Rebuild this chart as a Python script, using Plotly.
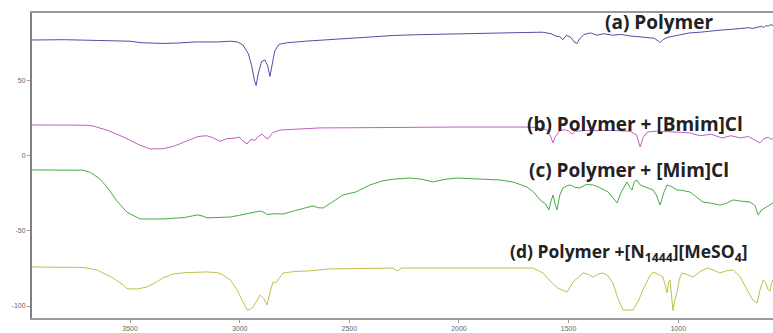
import plotly.graph_objects as go

# FTIR spectra, wavenumber (cm-1) vs. offset transmittance
wn_a = [3947, 3800, 3650, 3500, 3450, 3350, 3280, 3200, 3100, 3040, 3010, 2985, 2960, 2945,
        2932, 2925, 2915, 2900, 2885, 2872, 2862, 2852, 2840, 2820, 2780, 2700, 2600, 2500,
        2400, 2300, 2200, 2100, 2000, 1900, 1813, 1700, 1620, 1580, 1560, 1540, 1526, 1510,
        1490, 1475, 1462, 1450, 1430, 1400, 1370, 1340, 1300, 1260, 1220, 1180, 1140, 1110,
        1090, 1083, 1070, 1050, 1000, 950, 900, 850, 800, 750, 700, 680, 660, 640, 620, 610,
        600, 590, 580, 568]
t_a = [77.3, 77.5, 77.0, 76.5, 75.5, 75.0, 75.3, 76.0, 76.0, 76.5, 76.0, 74.0, 68.0, 60.0,
       50.0, 47.0, 55.0, 63.0, 64.0, 60.0, 53.0, 60.0, 70.0, 74.5, 75.5, 76.5, 77.5, 78.5,
       79.5, 80.3, 80.8, 81.2, 81.5, 81.8, 82.0, 82.3, 82.5, 81.5, 80.0, 79.5, 77.5, 80.5,
       79.0, 76.0, 75.0, 78.0, 81.0, 82.0, 80.5, 81.5, 80.5, 81.0, 80.0, 79.5, 79.0, 78.5,
       76.5, 75.5, 77.5, 79.0, 80.5, 82.0, 82.5, 83.5, 84.0, 84.5, 85.0, 85.5, 85.0, 86.0,
       86.5, 85.5, 87.0, 86.5, 87.5, 87.0]

wn_b = [3947, 3800, 3700, 3669, 3600, 3520, 3460, 3409, 3350, 3300, 3250, 3190, 3150, 3120,
        3090, 3060, 3030, 3000, 2985, 2966, 2950, 2930, 2915, 2898, 2880, 2870, 2850, 2816,
        2750, 2634, 2500, 2223, 2000, 1708, 1650, 1600, 1585, 1571, 1560, 1540, 1516, 1500,
        1484, 1470, 1420, 1300, 1220, 1190, 1174, 1160, 1140, 1100, 1000, 950, 901, 850, 800,
        760, 718, 680, 650, 627, 610, 590, 575, 568]
t_b = [20.7, 20.7, 20.5, 20.0, 17.0, 12.0, 7.5, 4.7, 4.8, 6.5, 9.5, 13.0, 13.5, 12.0,
       9.8, 11.5, 11.8, 12.5, 10.0, 8.0, 11.0, 10.5, 13.0, 14.5, 12.0, 11.5, 15.5, 17.3,
       17.8, 18.7, 18.8, 19.3, 19.3, 19.3, 19.0, 17.5, 14.0, 8.7, 13.0, 17.0, 17.5, 16.8,
       14.5, 16.5, 17.0, 17.0, 16.5, 14.0, 6.0, 12.5, 16.0, 16.5, 16.0, 15.5, 13.5, 14.5, 12.0,
       13.5, 12.0, 13.0, 10.5, 8.7, 11.5, 12.5, 11.0, 12.0]

wn_c = [3947, 3800, 3714, 3680, 3640, 3605, 3560, 3514, 3470, 3454, 3350, 3250, 3194, 3170,
        3149, 3100, 3044, 3000, 2950, 2907, 2890, 2875, 2840, 2802, 2750, 2700, 2666, 2640,
        2620, 2580, 2529, 2470, 2406, 2346, 2300, 2223, 2170, 2118, 2060, 2009, 1900, 1813,
        1750, 1690, 1660, 1630, 1605, 1590, 1580, 1571, 1560, 1553, 1540, 1526, 1510, 1494,
        1470, 1448, 1420, 1389, 1360, 1320, 1290, 1279, 1260, 1234, 1220, 1211, 1200, 1188,
        1174, 1150, 1115, 1100, 1083, 1065, 1051, 1030, 1006, 980, 947, 920, 887, 850, 810,
        780, 750, 720, 673, 650, 636, 620, 595, 580, 568]
t_c = [-9.3, -9.3, -9.5, -11.0, -15.0, -20.7, -30.0, -37.5, -41.0, -42.0, -42.0, -41.0, -39.3, -40.0,
       -41.3, -41.0, -40.7, -39.5, -38.0, -36.7, -37.5, -39.0, -38.5, -38.7, -36.5, -34.5, -33.3, -34.5,
       -34.7, -31.0, -26.0, -24.0, -19.3, -16.5, -15.5, -14.7, -15.5, -17.3, -15.5, -14.7, -15.5, -16.0,
       -17.5, -20.7, -24.0, -29.3, -32.0, -36.0, -30.0, -26.0, -33.0, -36.0, -26.0, -21.3, -20.0, -19.3,
       -21.0, -21.3, -19.0, -19.3, -21.0, -24.0, -29.3, -31.3, -24.0, -17.3, -21.0, -22.7, -17.0, -16.0,
       -19.3, -20.5, -22.7, -26.0, -32.7, -24.0, -19.3, -20.5, -22.7, -23.0, -24.0, -27.0, -30.7, -31.5, -32.7,
       -31.5, -29.3, -30.0, -30.7, -33.0, -39.3, -36.0, -34.0, -32.5, -31.3]

wn_d = [3947, 3800, 3714, 3650, 3578, 3530, 3514, 3468, 3422, 3380, 3350, 3304, 3250, 3149,
        3100, 3076, 3040, 3012, 2985, 2966, 2950, 2939, 2920, 2907, 2890, 2875, 2860, 2848,
        2835, 2825, 2802, 2750, 2693, 2588, 2400, 2300, 2282, 2260, 2223, 2000, 1800, 1662,
        1617, 1580, 1550, 1507, 1480, 1434, 1410, 1389, 1360, 1343, 1320, 1298, 1275, 1252,
        1206, 1180, 1161, 1130, 1115, 1090, 1070, 1060, 1051, 1044, 1038, 1030, 1024, 1016,
        1006, 995, 983, 960, 933, 900, 869, 840, 810, 780, 750, 720, 700, 686, 660, 641, 625,
        613, 600, 590, 581, 575, 568]
t_d = [-74.0, -74.0, -74.3, -76.0, -81.3, -86.0, -88.5, -88.7, -87.3, -84.0, -81.3, -78.7, -77.8, -77.3,
       -77.8, -79.3, -83.0, -89.3, -97.0, -102.7, -102.0, -100.7, -96.0, -92.7, -95.0, -99.3, -90.0, -84.0,
       -84.5, -82.7, -78.0, -77.0, -76.7, -75.3, -74.8, -74.7, -76.7, -74.7, -74.7, -74.5, -74.7, -74.7,
       -78.0, -84.0, -88.0, -90.7, -84.0, -78.0, -79.0, -80.7, -78.5, -78.0, -80.0, -84.7, -95.0, -102.7,
       -102.7, -96.0, -89.3, -80.0, -77.3, -79.0, -80.7, -86.0, -91.3, -84.0, -82.7, -94.0, -103.0, -96.0,
       -91.3, -82.0, -78.0, -79.0, -80.7, -77.0, -74.7, -76.0, -78.0, -76.5, -76.0, -80.0, -86.0, -89.3,
       -96.0, -98.0, -88.0, -82.7, -85.0, -89.3, -90.0, -85.0, -82.7]

x_ticks = [3500, 3000, 2500, 2000, 1500, 1000]
y_ticks = [50, 0, -50, -100]

series = [
    (wn_a, t_a, "#4f4fa6"),
    (wn_b, t_b, "#c25ec2"),
    (wn_c, t_c, "#45ad45"),
    (wn_d, t_d, "#c2c04a"),
]

labels = [
    (1343, 89.3, "(a) Polymer", 19),
    (1699, 21.3, "(b) Polymer + [Bmim]Cl", 19),
    (1689, -9.3, "(c) Polymer + [Mim]Cl", 19),
    (1777, -64.5, "(d) Polymer +[N<sub>1444</sub>][MeSO<sub>4</sub>]", 17.5),
]

fig = go.Figure()
for wn, t, color in series:
    fig.add_trace(go.Scatter(x=wn, y=t, mode="lines",
                             line=dict(color=color, width=1), hoverinfo="skip"))

for x, y, text, size in labels:
    fig.add_annotation(x=x, y=y, text="<b>" + text + "</b>", showarrow=False,
                       xanchor="left", yanchor="middle",
                       font=dict(family="Open Sans", size=size, color="#222222"))

fig.update_layout(
    width=773, height=333,
    margin=dict(l=32, r=0, t=13, b=15),
    paper_bgcolor="white", plot_bgcolor="white",
    showlegend=False,
)
fig.update_xaxes(
    range=[3947, 568], tickvals=x_ticks, ticktext=[str(v) for v in x_ticks],
    showgrid=False, zeroline=False, showline=True, mirror=True,
    linecolor="#9a9a9a", linewidth=2, ticks="outside", ticklen=3, tickcolor="#9a9a9a",
    tickfont=dict(family="Liberation Sans", size=7, color="#666666"),
)
fig.update_yaxes(
    range=[-108, 95.3], tickvals=y_ticks, ticktext=[str(v) for v in y_ticks],
    showgrid=False, zeroline=False, showline=True, mirror=False,
    linecolor="#808080", linewidth=2, ticks="outside", ticklen=3, tickcolor="#9a9a9a",
    tickfont=dict(family="Liberation Sans", size=7, color="#666666"),
)

fig.write_html("out.html")
